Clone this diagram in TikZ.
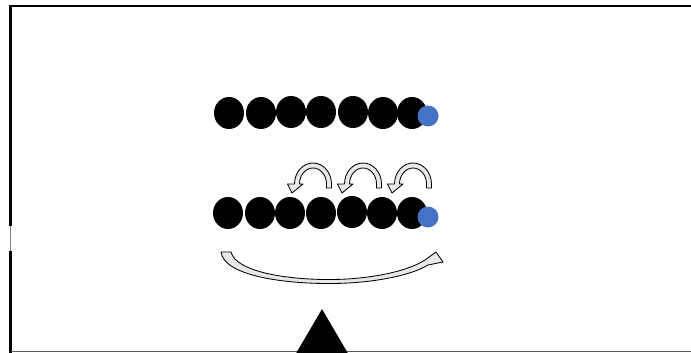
\documentclass[tikz,border=0pt]{standalone}
\usepackage{tikz}
\usepackage{xcolor}
\usetikzlibrary{shapes.geometric, calc, positioning}
\definecolor{officeblue}{RGB}{68, 114, 196}
\tikzset{bead/.style={ellipse, fill=black, inner sep=0pt, minimum width=30pt, minimum height=32pt}}
\tikzset{endbead/.style={circle, fill=officeblue, inner sep=0pt, minimum size=21pt}}
\tikzset{frameline/.style={line width=2.6pt, color=black}}
\tikzset{hoparrow/.style={draw=black, line width=0.85pt, fill=gray!18, line join=round}}
\tikzset{hop/.pic={
    \draw[hoparrow] (18.5,4) -- (18.5,0) arc[start angle=0, end angle=-180, x radius=18.5, y radius=21]
        -- (-25.5,0) -- (-21,9) -- (-10,0) -- (-13.5,0)
        arc[start angle=-180, end angle=0, x radius=13.5, y radius=16] -- (13.5,4) -- cycle;
}}

\begin{document}
\begin{tikzpicture}[x=1pt, y=-1pt]
        \useasboundingbox (0,0) rectangle (691,353);
        \clip (0,0) rectangle (691,353);

        % frame
        \draw[frameline] (700,6) -- (10.5,6) -- (10.5,226);
        \draw[frameline] (10.5,251) -- (10.5,360);
        \draw[gray, line width=0.8pt] (10.5,226) -- (10.5,251);
        \draw[gray!70!black, line width=1pt] (10.5,351.8) -- (700,351.8);

        \begin{scope}
            \node[bead] (T1) at (229, 113) {};
            \node[bead] (T2) at (261, 113) {};
            \node[bead] (T3) at (291, 112) {};
            \node[bead] (T4) at (321, 112) {};
            \node[bead] (T5) at (353, 112) {};
            \node[bead] (T6) at (383, 113) {};
            \node[bead] (T7) at (412, 113) {};
            \node[endbead] (Tb) at (428, 116) {};

            \node[bead] (B1) at (228, 213) {};
            \node[bead] (B2) at (260, 213) {};
            \node[bead] (B3) at (290, 213) {};
            \node[bead] (B4) at (321, 213) {};
            \node[bead] (B5) at (352, 212) {};
            \node[bead] (B6) at (382, 213) {};
            \node[bead] (B7) at (412, 213) {};
            \node[endbead] (Bb) at (428, 217) {};
        \end{scope}

        % hops
        \pic at (313, 184) {hop};
        \pic at (363, 184) {hop};
        \pic at (413, 184) {hop};

        % long return arrow
        \draw[hoparrow] (221,252) .. controls (224,276) and (285,284) .. (333,283.5)
            .. controls (375,283) and (412,275) .. (428,265)
            -- (443,262) -- (436,252) -- (425,260)
            .. controls (408,271) and (372,279) .. (333,279.5)
            .. controls (288,280) and (236,272) .. (231,252) -- cycle;

        % pivot
        \fill[black] (322,309) -- (353,362) -- (291,362) -- cycle;
    \end{tikzpicture}
\end{document}
